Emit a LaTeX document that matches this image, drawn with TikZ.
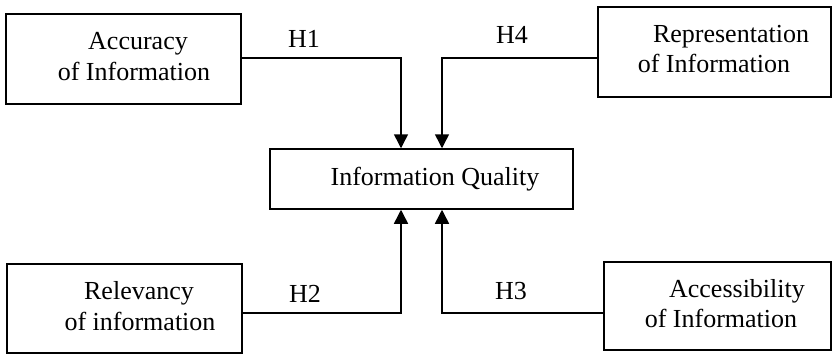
\documentclass[tikz,border=0pt]{standalone}
\usepackage{fontspec}
\setmainfont{Liberation Serif}
\usetikzlibrary{arrows.meta}
\begin{document}
\begin{tikzpicture}[x=1pt,y=-1pt,
  box/.style={draw, line width=1.5pt, rectangle, inner sep=0pt},
  txt/.style={anchor=base, inner sep=0pt, font=\fontsize{26}{31}\selectfont},
  conn/.style={line width=1.5pt, -{Triangle[length=14pt,width=14pt]}}]
\useasboundingbox (0,0) rectangle (833,354);
% boxes
\node[box, minimum width=235pt, minimum height=90pt] (acc) at (123.5,59) {};
\node[box, minimum width=233pt, minimum height=90pt] (rep) at (714.5,52) {};
\node[box, minimum width=303pt, minimum height=60pt] (iq) at (421.5,179) {};
\node[box, minimum width=235pt, minimum height=89pt] (rel) at (124.5,308.5) {};
\node[box, minimum width=227pt, minimum height=88pt] (acs) at (717.5,306) {};
% texts
\node[txt] (acc1) at (138,49) {Accuracy};
\node[txt] (acc2) at (134,80) {of Information};
\node[txt] (rep1) at (731,42) {Representation};
\node[txt] (rep2) at (714,72) {of Information};
\node[txt] (iqt) at (435,185) {Information Quality};
\node[txt] (rel1) at (139,299) {Relevancy};
\node[txt] (rel2) at (140,330) {of information};
\node[txt] (acs1) at (737,297) {Accessibility};
\node[txt] (acs2) at (721,327) {of Information};
% labels
\node[txt] (h1) at (304,47) {H1};
\node[txt] (h4) at (512,43) {H4};
\node[txt] (h2) at (305,302) {H2};
\node[txt] (h3) at (511,299) {H3};
% connectors
\coordinate (upy) at (0,58);
\coordinate (lowy) at (0,313);
\draw[conn] (acc.east |- upy) -| ([xshift=-20.5pt]iq.north);
\draw[conn] (rep.west |- upy) -| ([xshift=20.5pt]iq.north);
\draw[conn] (rel.east |- lowy) -| ([xshift=-20.5pt]iq.south);
\draw[conn] (acs.west |- lowy) -| ([xshift=20.5pt]iq.south);
\end{tikzpicture}
\end{document}
